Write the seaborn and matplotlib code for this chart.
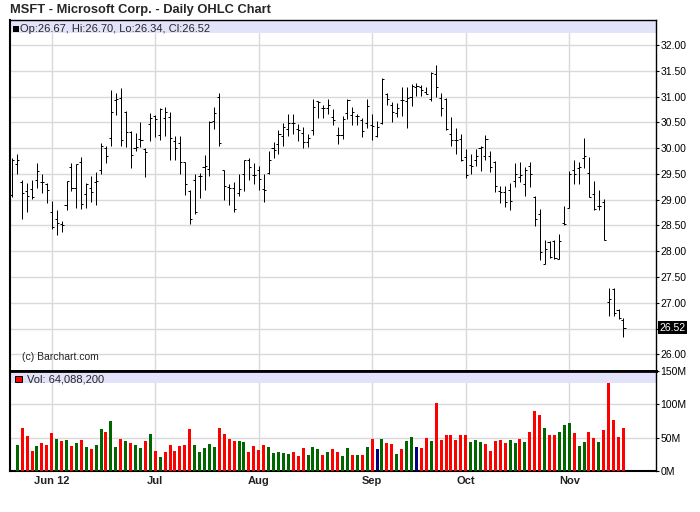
"""MSFT daily OHLC chart with volume panel (Barchart style)."""
import numpy as np
import pandas as pd
import matplotlib
matplotlib.use("Agg")
import matplotlib.pyplot as plt
import matplotlib.transforms as mtransforms
from matplotlib.patches import Rectangle
import seaborn as sns

# trading days 21 May - 16 Nov 2012 (market holidays + Sandy closures removed)
holidays = ['2012-05-28', '2012-07-04', '2012-09-03', '2012-10-29', '2012-10-30']
dates = pd.bdate_range('2012-05-21', '2012-11-16')
dates = dates[~dates.isin(pd.to_datetime(holidays))]

opens = [29.09, 29.70, 29.35, 29.17, 29.20, 29.39, 29.35, 29.31, 28.77, 28.62,
         28.52, 28.89, 29.64, 29.22, 29.74, 29.10, 29.22, 29.34, 29.58, 30.00,
         30.19, 30.94, 30.97, 30.71, 30.32, 30.00, 30.18, 29.99, 30.46, 30.62,
         30.25, 30.59, 30.61, 30.14, 30.09, 29.74, 29.16, 29.39, 29.45, 29.64,
         29.60, 30.52, 31.00, 29.57, 29.24, 29.23, 29.13, 29.49, 29.76, 29.47,
         29.58, 29.21, 29.52, 30.01, 30.08, 30.23, 30.38, 30.49, 30.38, 30.30,
         30.12, 30.36, 30.91, 30.78, 30.78, 30.60, 30.26, 30.26, 30.68, 30.65,
         30.63, 30.54, 30.49, 30.45, 30.23, 30.49, 31.04, 30.84, 30.68, 30.94,
         30.91, 31.00, 31.18, 31.18, 31.09, 30.95, 31.44, 30.98, 30.96, 30.28,
         30.16, 30.18, 29.82, 29.67, 29.76, 30.00, 29.84, 29.84, 29.73, 29.16,
         29.15, 29.18, 29.37, 29.44, 29.30, 29.65, 29.06, 28.72, 27.76, 28.18,
         28.19, 27.85, 28.55, 28.84, 29.58, 29.61, 29.81, 29.52, 29.11, 28.88,
         28.95, 27.02, 27.26, 26.86, 26.67]
highs = [29.80, 29.88, 29.38, 29.33, 29.38, 29.72, 29.49, 29.33, 28.97, 28.80,
         28.58, 29.36, 29.71, 29.70, 29.82, 29.32, 29.45, 29.54, 30.09, 30.04,
         31.13, 31.06, 31.16, 30.72, 30.33, 30.29, 30.50, 30.01, 30.69, 30.64,
         30.77, 30.79, 30.71, 30.24, 30.24, 29.74, 29.18, 29.49, 29.52, 29.86,
         30.52, 30.80, 31.06, 29.58, 29.31, 29.34, 29.49, 29.77, 29.81, 29.71,
         29.65, 29.49, 29.94, 30.12, 30.35, 30.48, 30.66, 30.66, 30.46, 30.40,
         30.27, 30.95, 30.92, 30.83, 30.96, 30.76, 30.40, 30.63, 30.96, 30.79,
         30.66, 30.58, 30.96, 30.66, 30.52, 31.36, 31.07, 30.89, 30.87, 31.18,
         31.18, 31.24, 31.26, 31.22, 31.18, 31.47, 31.62, 31.07, 30.98, 30.60,
         30.39, 30.28, 29.99, 29.89, 29.98, 30.04, 30.26, 29.94, 29.75, 29.26,
         29.26, 29.33, 29.71, 29.73, 29.63, 29.73, 29.08, 28.82, 28.21, 28.19,
         28.21, 28.34, 28.88, 29.55, 29.77, 29.74, 30.19, 29.83, 29.37, 29.19,
         29.02, 27.29, 27.29, 26.88, 26.70]
lows = [29.05, 29.50, 28.63, 28.76, 29.02, 29.23, 29.12, 28.94, 28.44, 28.32,
        28.37, 28.80, 29.17, 28.84, 28.81, 28.84, 28.95, 28.89, 29.49, 29.72,
        30.04, 30.64, 30.05, 30.02, 29.62, 29.94, 30.02, 29.43, 30.14, 30.22,
        30.16, 30.24, 29.77, 29.77, 29.50, 29.09, 28.53, 28.73, 29.04, 29.19,
        29.46, 30.38, 30.04, 29.00, 28.89, 28.77, 29.08, 29.16, 29.39, 29.31,
        29.19, 28.95, 29.49, 29.81, 29.88, 30.05, 30.23, 30.27, 30.14, 30.01,
        30.03, 30.25, 30.58, 30.58, 30.66, 30.45, 30.08, 30.18, 30.57, 30.44,
        30.44, 30.21, 30.39, 30.15, 30.21, 30.47, 30.84, 30.50, 30.60, 30.63,
        30.39, 30.81, 31.02, 31.02, 31.04, 30.91, 30.99, 30.63, 30.36, 30.05,
        29.89, 29.75, 29.42, 29.50, 29.66, 29.55, 29.76, 29.53, 29.15, 28.94,
        28.85, 28.80, 29.25, 29.34, 29.08, 29.25, 28.48, 27.83, 27.75, 27.87,
        27.84, 27.84, 28.50, 28.83, 29.30, 29.31, 29.61, 29.05, 28.79, 28.79,
        28.21, 26.74, 26.74, 26.68, 26.34]
closes = [29.76, 29.76, 29.12, 29.07, 29.06, 29.56, 29.35, 29.19, 28.46, 28.55,
          28.50, 29.36, 29.23, 29.69, 28.91, 29.30, 29.14, 29.36, 30.04, 29.84,
          30.71, 30.95, 30.15, 30.31, 29.86, 30.02, 30.16, 29.92, 30.59, 30.57,
          30.76, 30.70, 30.19, 30.00, 29.74, 29.30, 28.63, 28.76, 29.46, 29.65,
          30.51, 30.68, 30.10, 29.26, 29.22, 28.82, 29.21, 29.76, 29.64, 29.47,
          29.40, 29.19, 29.76, 29.96, 30.27, 30.40, 30.49, 30.48, 30.36, 30.12,
          30.20, 30.79, 30.89, 30.78, 30.84, 30.55, 30.26, 30.56, 30.94, 30.70,
          30.63, 30.33, 30.81, 30.42, 30.40, 31.34, 30.95, 30.71, 30.78, 30.94,
          30.98, 31.20, 31.20, 31.12, 31.05, 31.45, 31.18, 30.78, 30.38, 30.15,
          30.16, 29.76, 29.47, 29.65, 29.85, 30.02, 30.18, 29.64, 29.27, 29.15,
          28.95, 28.97, 29.50, 29.47, 29.58, 29.50, 28.63, 27.99, 28.05, 27.88,
          27.86, 28.19, 28.52, 29.50, 29.50, 29.63, 29.85, 29.06, 28.81, 28.88,
          28.22, 27.08, 26.81, 26.71, 26.52]

# volume in millions (no bar shown for the first day)
volume_m = [np.nan,
            39, 64.5, 52.5, 30, 37.5, 42, 39, 57, 48, 45, 46.5, 37.5, 42, 46.5,
            36, 33, 39, 63, 58.5, 75, 36, 48, 45, 42, 39, 34.5, 45, 55.5, 30,
            21, 28.5, 39, 30, 37.5, 39, 63, 39, 28.5, 34.5, 40.5, 36,
            64.5, 55.5, 48, 45, 45, 43.5, 28.5, 37.5, 31.5, 39, 36, 27, 28.5,
            27, 25.5, 28.5, 22.5, 34.5, 24, 36, 33, 24, 28.5, 33, 28.5, 22.5,
            34.5, 24, 24, 24, 36, 48, 33, 48, 42, 40.5, 25.5, 33, 45, 51, 36,
            34.5, 49.5, 45, 102, 46.5, 54, 54, 46.5, 54, 54, 43.5, 46.5, 43.5,
            40.5, 30, 45, 46.5, 42, 46.5, 42, 48, 43.5, 58.5, 90, 84, 64.5,
            54, 54, 58.5, 69, 72, 57, 37.5, 43.5, 58.5, 49.5, 43.5, 61.5, 132,
            76.5, 51, 64.0882]
# G = up day, R = down day, N = unchanged
volume_dir = list("-"
                  "GRRRGRRRGRGRGRGRGGRGGRGRGGRGRGRRRRRRGGGG" "G"
                  "RRRRGGRRRRGGGGGRRRGGGRGRRGG"
                  "RGRGRNGRRGRGGNRRGRRRRRRRGGGRRRRRGGRGRRRGRRGGGRGGRRGRRRRR")

df = pd.DataFrame({'date': dates, 'open': opens, 'high': highs, 'low': lows,
                   'close': closes, 'volume': volume_m, 'dir': volume_dir})
df['day'] = np.arange(len(df))

sns.set_style("white")
plt.rcParams['font.family'] = ['Liberation Sans', 'DejaVu Sans']

W, H = 700, 512
fig = plt.figure(figsize=(W / 100, H / 100), dpi=100)


def fx(px):
    return px / W


def fy(py):
    return 1 - py / H


left, right = 10, 656
p_top, p_bot, v_bot = 20, 370.7, 471
ax_p = fig.add_axes([fx(left), fy(p_bot), fx(right - left), (p_bot - p_top) / H])
ax_v = fig.add_axes([fx(left), fy(v_bot), fx(right - left), (v_bot - p_bot) / H])

xlim = (-0.47, 130.6)
grid_c = '#d9d9d9'

# month starts for the date axis
first_days = df.groupby(df['date'].dt.month)['day'].min()
month_pos = list(first_days.values[1:])
month_labels = ['Jun 12', 'Jul', 'Aug', 'Sep', 'Oct', 'Nov']

# ---- price panel ----
bar_kw = dict(color='black', lw=0.72, capstyle='butt', zorder=3)
ax_p.vlines(df['day'], df['low'], df['high'], **bar_kw)
ax_p.hlines(df['open'], df['day'] - 0.42, df['day'], **bar_kw)
ax_p.hlines(df['close'], df['day'], df['day'] + 0.42, **bar_kw)

ax_p.set_xlim(*xlim)
ax_p.set_ylim(25.682, 32.485)
price_ticks = np.arange(26.0, 32.01, 0.5)
ax_p.set_yticks(price_ticks)
ax_p.set_yticklabels(['' if abs(t - 26.5) < 1e-6 else f'{t:.2f}' for t in price_ticks])
ax_p.yaxis.tick_right()
ax_p.set_xticks(month_pos)
ax_p.set_xticklabels([])
ax_p.tick_params(axis='y', direction='out', length=2.5, width=0.8, pad=0.8,
                 labelsize=7.5, colors='black')
ax_p.tick_params(axis='x', length=0)
ax_p.grid(True, color=grid_c, lw=1.0)
ax_p.set_axisbelow(True)
ax_p.axhspan(32.227, 32.485, color='#e2e2fa', lw=0, zorder=1)

# ---- volume panel ----
vdf = df.dropna(subset=['volume'])
sns.barplot(data=vdf, x='day', y='volume', hue='dir', native_scale=True,
            palette={'G': '#006600', 'R': '#ff0000', 'N': '#000080'},
            dodge=False, width=0.6, errorbar=None, saturation=1,
            linewidth=0, legend=False, ax=ax_v, zorder=3)
ax_v.set_xlim(*xlim)
ax_v.set_ylim(0, 150.4)
ax_v.axhspan(131.5, 150.4, color='#e2e2fa', lw=0, zorder=1)
ax_v.set_yticks([0, 50, 100, 150])
ax_v.set_yticklabels(['0M', '50M', '100M', '150M'])
ax_v.yaxis.tick_right()
ax_v.set_xticks(month_pos)
ax_v.set_xticklabels(month_labels, fontweight='bold', fontsize=8, color='#222222')
ax_v.tick_params(axis='x', length=0, pad=3.5)
ax_v.tick_params(axis='y', direction='out', length=2.5, width=0.8, pad=0.8,
                 labelsize=7.5, colors='black')
ax_v.set_xlabel('')
ax_v.set_ylabel('')
ax_v.grid(True, color=grid_c, lw=1.0)
ax_v.set_axisbelow(True)

for ax in (ax_p, ax_v):
    for s in ax.spines.values():
        s.set_color('black')
        s.set_linewidth(1.0)
    ax.spines['left'].set_linewidth(1.5)
ax_p.spines['bottom'].set_linewidth(2.0)
ax_v.spines['top'].set_linewidth(2.0)
ax_v.spines['bottom'].set_linewidth(1.5)

# ---- texts ----
fig.text(fx(10), fy(13.5), 'MSFT - Microsoft Corp. - Daily OHLC Chart',
         fontsize=9.3, fontweight='bold', va='baseline', ha='left')

last = df.iloc[-1]
fig.patches.append(Rectangle((fx(12.5), fy(32)), 6 / W, 6 / H,
                             transform=fig.transFigure, facecolor='black',
                             edgecolor='none'))
fig.text(fx(20.5), fy(31.5),
         f"Op:{last['open']:.2f}, Hi:{last['high']:.2f}, "
         f"Lo:{last['low']:.2f}, Cl:{last['close']:.2f}",
         fontsize=8, va='baseline', ha='left')

fig.patches.append(Rectangle((fx(15.3), fy(382.3)), 7 / W, 6.6 / H,
                             transform=fig.transFigure, facecolor='#ff0000',
                             edgecolor='black', lw=0.7))
fig.text(fx(26.5), fy(382.5), f"Vol: {last['volume'] * 1e6:,.0f}",
         fontsize=8, va='baseline', ha='left')

fig.text(fx(22.5), fy(360.5), '(c) Barchart.com', fontsize=7.5,
         va='baseline', ha='left')

# last close marker on the price scale
trans = mtransforms.blended_transform_factory(ax_p.transAxes, ax_p.transData)
ax_p.text(1.0 + 3.5 / (right - left), last['close'], f"{last['close']:.2f}",
          transform=trans, fontsize=7.5, color='white', va='center', ha='left',
          bbox=dict(boxstyle='square,pad=0.12', facecolor='black',
                    edgecolor='none'),
          clip_on=False)

fig.savefig('out.png', dpi=100)
plt.close(fig)
